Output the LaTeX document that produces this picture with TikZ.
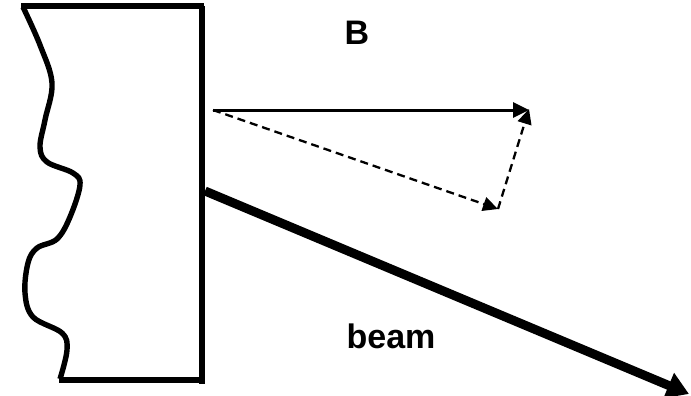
\documentclass[tikz,border=0pt]{standalone}
\usepackage{fontspec}
\setmainfont{Liberation Sans}
\usetikzlibrary{arrows.meta}
\begin{document}
\begin{tikzpicture}[x=1pt,y=-1pt,
  wall/.style={line width=5.4pt},
  vec/.style={line width=3pt,-{Triangle[length=16pt,width=15pt]}},
  dvec/.style={line width=2.3pt,dash pattern=on 8pt off 5pt,-{Triangle[length=15pt,width=14pt]}},
  beamline/.style={line width=9pt,-{Triangle[length=22pt,width=26pt]}},
  lbl/.style={font=\fontsize{34}{40}\selectfont\bfseries,inner sep=0pt}]
\useasboundingbox (0,0) rectangle (691,396);
% wall
\coordinate (tl) at (21,6);
\coordinate (tr) at (202,6);
\coordinate (br) at (202,384);
\coordinate (bl) at (59,380);
\draw[wall] (tl) -- (204,6);
\draw[wall] (tr) -- (br);
\draw[wall] (bl) -- (204,380);
\draw[wall,line join=round] plot[smooth,tension=0.6] coordinates{
 (23,7) (40,45) (52,83) (45,120) (40,147) (47,162) (73,173) (80,185)
 (70,217) (57,239) (37,248) (28,263) (25,293) (33,317) (62,333) (67,350) (60,379)};
% vectors
\coordinate (o) at (213,110);
\coordinate (p) at (529,110);
\coordinate (q) at (498,209);
\draw[vec] (o) -- (p);
\draw[dvec] (o) -- (q);
\draw[dvec] (q) -- (529,109);
% beam
\coordinate (b0) at (205,191);
\coordinate (b1) at (689,394);
\draw[beamline] (b0) -- (b1);
% labels
\node[lbl,anchor=base] (B) at (357,45) {B};
\node[lbl,anchor=base] (beam) at (391,348) {beam};
\end{tikzpicture}
\end{document}
